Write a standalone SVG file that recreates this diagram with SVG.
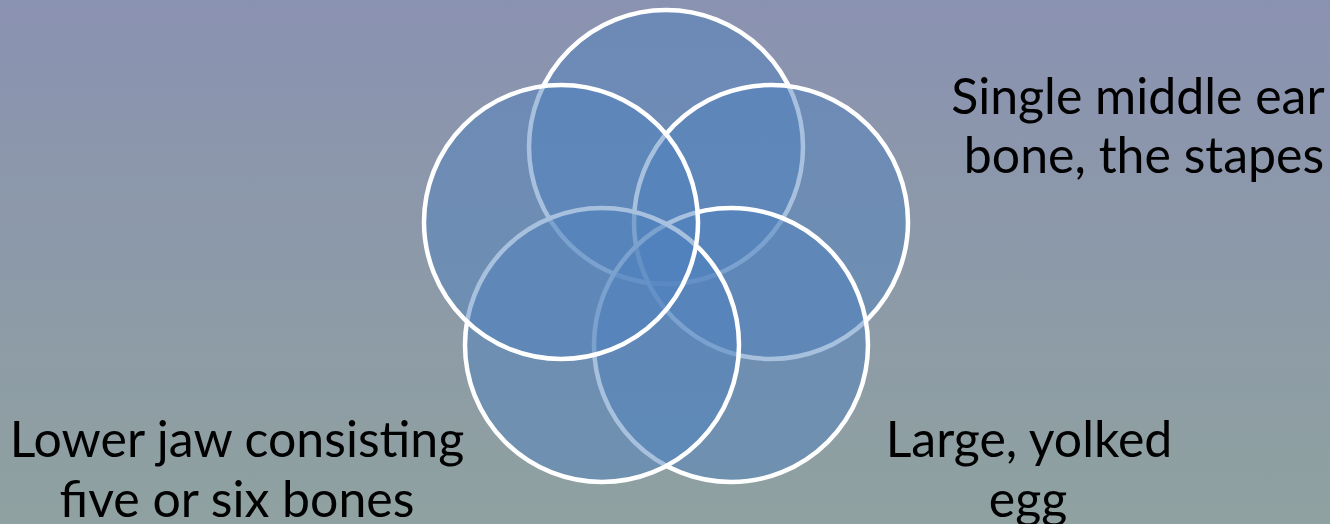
<svg xmlns="http://www.w3.org/2000/svg" width="1330" height="524" viewBox="0 0 1330 524">
  <defs>
    <linearGradient id="bg" x1="0" y1="0" x2="0" y2="1">
      <stop offset="0" stop-color="#8a92b1"/>
      <stop offset="1" stop-color="#8fa1a0"/>
    </linearGradient>
  </defs>
  <style>
    .c { fill: #4f81bd; fill-opacity: 0.5; stroke: #ffffff; stroke-width: 4.5; }
    .t { font-family: "Lato", "Liberation Sans", sans-serif; font-size: 50px; fill: #000000; text-anchor: middle; }
  </style>
  <rect x="0" y="0" width="1330" height="524" fill="url(#bg)"/>
  <g id="circles">
    <g id="circle-top"><circle class="c" cx="666" cy="147" r="137"/></g>
    <g id="circle-right"><circle class="c" cx="771" cy="222" r="137"/></g>
    <g id="circle-bottom-right"><circle class="c" cx="731" cy="345" r="137"/></g>
    <g id="circle-bottom-left"><circle class="c" cx="602" cy="345" r="137"/></g>
    <g id="circle-left"><circle class="c" cx="561" cy="222" r="137"/></g>
  </g>
  <g id="connectors"></g>
  <g id="label-stapes">
    <text class="t" x="1138" y="114">Single middle ear</text>
    <text class="t" x="1144" y="173">bone, the stapes</text>
  </g>
  <g id="label-jaw">
    <text class="t" x="237" y="457">Lower jaw consisting</text>
    <text class="t" x="237" y="517">five or six bones</text>
  </g>
  <g id="label-egg">
    <text class="t" x="1029" y="457">Large, yolked</text>
    <text class="t" x="1028" y="517">egg</text>
  </g>
</svg>
